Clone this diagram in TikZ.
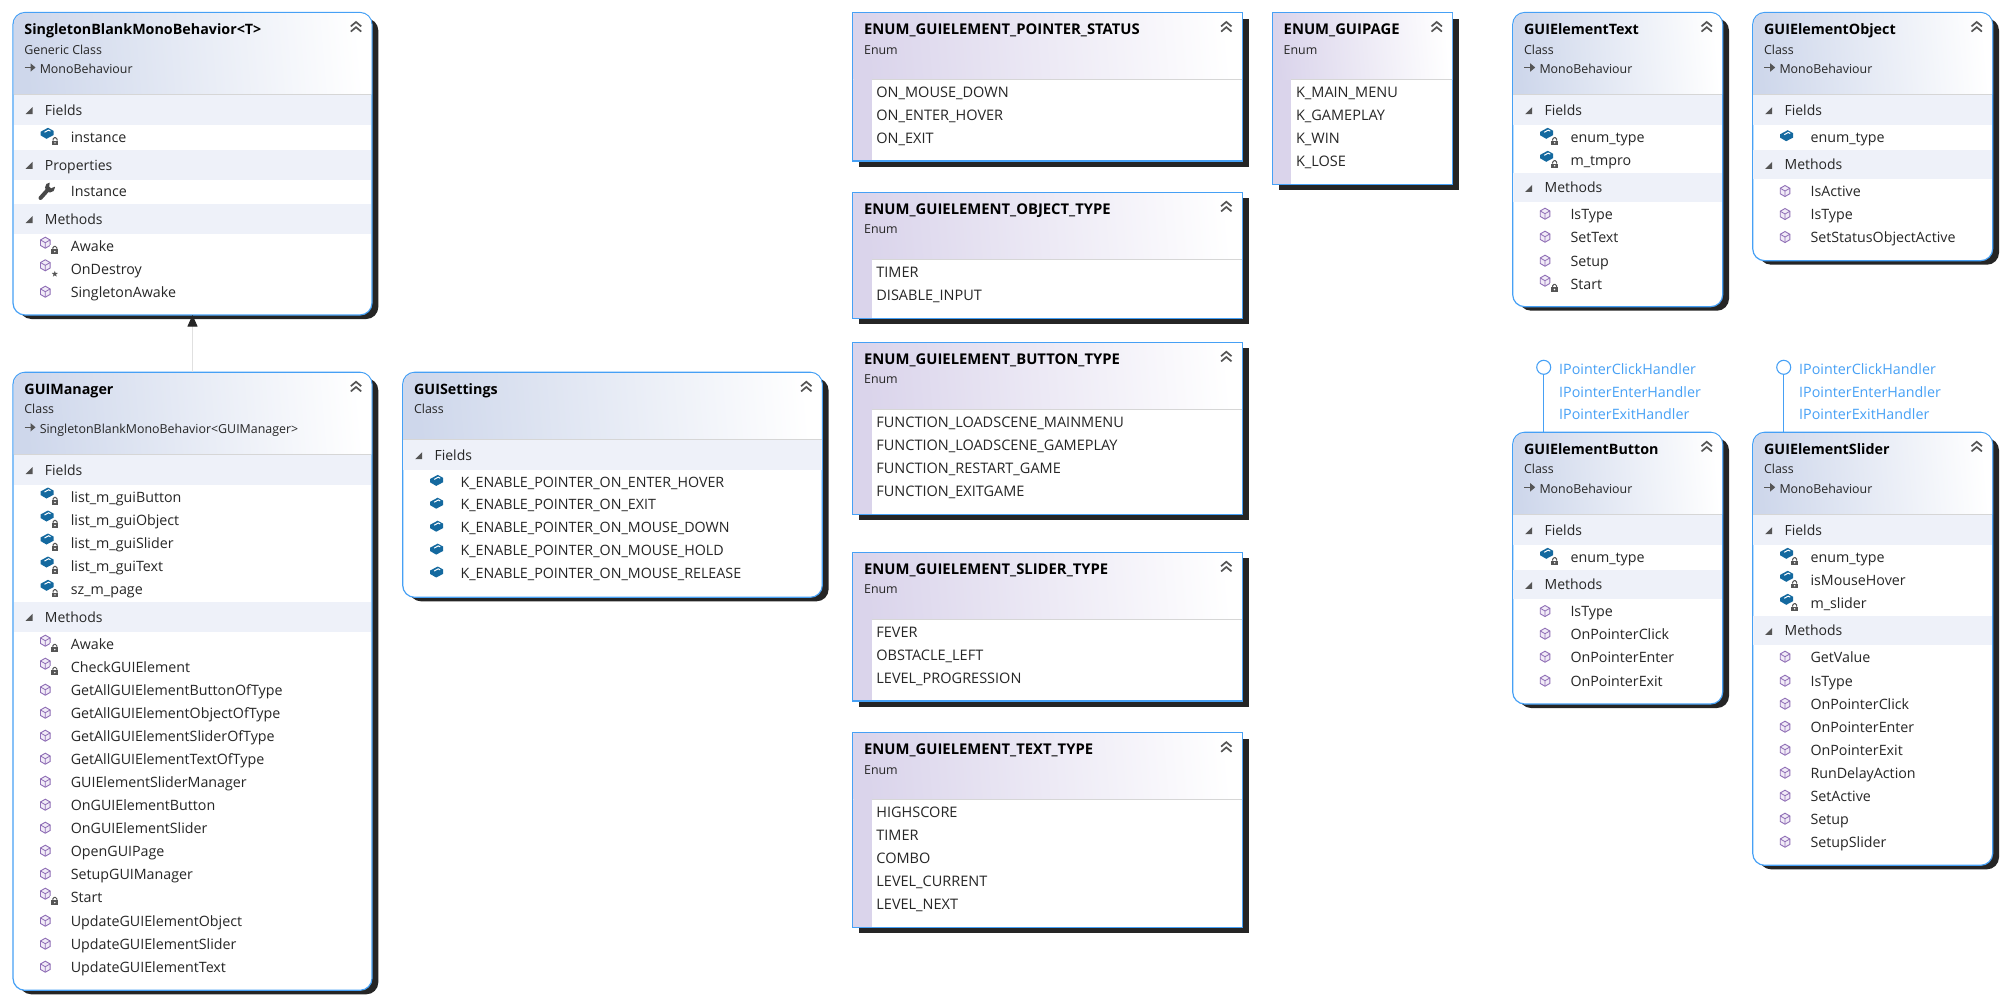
\documentclass[tikz,border=0pt]{standalone}
\usepackage{fontspec}
\setmainfont{Open Sans}
\usetikzlibrary{arrows.meta,calc}

\definecolor{edgeblue}{HTML}{46A0F5}
\definecolor{shadowgray}{HTML}{252525}
\definecolor{classhead}{HTML}{CED7EB}
\definecolor{enumhead}{HTML}{DAD4EB}
\definecolor{bandfill}{HTML}{EEF1F9}
\definecolor{sepgray}{HTML}{D6D6D6}
\definecolor{icongray}{HTML}{555555}
\definecolor{cubeline}{HTML}{8E6DB5}
\definecolor{cubefill}{HTML}{F1EBF7}
\definecolor{blockblue}{HTML}{14699F}

\tikzset{
  boxnode/.style={draw=edgeblue, line width=1.2pt, fill=white, inner sep=0pt, outer sep=0pt},
  titletext/.style={anchor=base west, inner sep=0pt, font=\fontsize{14.3}{16}\selectfont\bfseries, text=black},
  enumtitle/.style={titletext, font=\fontsize{14.8}{16}\selectfont\bfseries},
  kindtext/.style={anchor=base west, inner sep=0pt, font=\fontsize{12.4}{14}\selectfont, text=black!85},
  bandtext/.style={anchor=base west, inner sep=0pt, font=\fontsize{14}{16}\selectfont, text=black!85},
  rowtext/.style={anchor=base west, inner sep=0pt, font=\fontsize{14.25}{16}\selectfont, text=black!85},
  enumtext/.style={rowtext, font=\fontsize{14.5}{16}\selectfont},
  ifacetext/.style={anchor=base west, inner sep=0pt, font=\fontsize{14.3}{16}\selectfont, text=edgeblue},
  lolly/.style={circle, draw=edgeblue, line width=1.1pt, fill=white, minimum size=14pt, inner sep=0pt, outer sep=0pt},
  ifaceline/.style={draw=edgeblue, line width=1.1pt},
  inherit/.style={draw=black!12, line width=0.8pt, -{Triangle[width=10pt,length=11.5pt,color=shadowgray]}},
  lock/.pic={
    \fill[white] (-4.5,-5) rectangle (4.5,4.5);
    \draw[icongray, line width=1pt, rounded corners=1.4pt] (-2,-1)--(-2,-3.8)--(2,-3.8)--(2,-1);
    \fill[icongray] (-3.4,-1) rectangle (3.4,3.6);
    \fill[white] (0,1.3) circle (0.8);
  },
  cube/.pic={
    \draw[cubeline, fill=cubefill, line width=0.9pt] (0,-5.5)--(4.8,-2.75)--(4.8,2.75)--(0,5.5)--(-4.8,2.75)--(-4.8,-2.75)--cycle;
    \draw[cubeline, line width=0.8pt] (-4.8,-2.75)--(0,0)--(4.8,-2.75) (0,0)--(0,5.5);
  },
  block/.pic={
    \fill[blockblue] (-6.5,-1.5)--(1,-5.5)--(6.5,-2.5)--(6.5,1.8)--(-0.5,5.5)--(-6.5,2)--cycle;
    \draw[white, line width=1pt] (-2.5,-1)--(1.5,-3.2)--(3.5,-2.2);
  },
  mthd/.pic={\pic at (-0.7,0) {cube};},
  mthdlock/.pic={\pic at (-0.7,-3) {cube}; \pic at (8.8,4.5) {lock};},
  mthdstar/.pic={
    \pic at (-0.7,-3.4) {cube};
    \fill[icongray] (8.8,2.1)--(9.55,4.25)--(11.85,4.3)--(10,5.7)--(10.7,7.9)--(8.8,6.6)--(6.9,7.9)--(7.6,5.7)--(5.75,4.3)--(8.05,4.25)--cycle;
  },
  fld/.pic={\pic at (1,-1.3) {block};},
  fldlock/.pic={\pic at (1,-3.7) {block}; \pic at (9,4.5) {lock};},
  wrench/.pic={
    \draw[icongray!85!black, line width=4pt, line cap=round] (-5.5,7)--(3,-2.5);
    \fill[icongray!85!black] (4,-3.5) circle (5);
    \fill[white] (3.8,-9.5)--(10,-9.5)--(10,-5)--(5.2,-2.8)--(3.3,-4.4)--cycle;
  },
  chevrons/.pic={
    \draw[icongray, line width=1.7pt] (-5.2,-0.6)--(0,-5)--(5.2,-0.6) (-5.2,4.6)--(0,0.2)--(5.2,4.6);
  },
  bandtri/.pic={
    \fill[icongray] (-3.5,3.5)--(3.5,-3.5)--(3.5,3.5)--cycle;
  },
  parentarrow/.pic={
    \draw[icongray, line width=1.6pt] (-5.5,0)--(1,0);
    \fill[icongray] (0.5,-4.2)--(5.5,0)--(0.5,4.2)--cycle;
  },
}

% class box: name, x1, y1, x2, y2, header bottom, title, kind
\newcommand{\classbox}[8]{
  \fill[shadowgray, rounded corners=12pt] (#2+6.3,#3+6) rectangle (#4+6.3,#5+4);
  \node[boxnode, rounded corners=12pt, minimum width={#4-#2}, minimum height={#5-#3}] (#1) at ({(#2+#4)/2},{(#3+#5)/2}) {};
  \shade[left color=classhead, right color=white, shading angle=95] (#2+0.7,#6) {[rounded corners=11pt] -- (#2+0.7,#3+0.7) -- (#4-0.7,#3+0.7)} -- (#4-0.7,#6) -- cycle;
  \draw[sepgray, line width=0.8pt] (#2+0.7,#6) -- (#4-0.7,#6);
  \node[titletext] (#1-title) at (#2+11.2,#3+21.8) {#7};
  \node[kindtext] (#1-kind) at (#2+11.2,#3+41.5) {#8};
  \pic at (#4-16,#3+14.5) {chevrons};
}
% enum box: name, x1, y1, x2, y2, title
\newcommand{\enumbox}[6]{
  \fill[shadowgray] (#2+6.3,#3+6) rectangle (#4+6.3,#5+5.5);
  \node[boxnode, minimum width={#4-#2}, minimum height={#5-#3}] (#1) at ({(#2+#4)/2},{(#3+#5)/2}) {};
  \shade[left color=enumhead, right color=white, shading angle=95] (#2+0.7,#3+0.7) rectangle (#4-0.7,#3+67);
  \fill[enumhead] (#2+0.7,#3+67) rectangle (#2+19,#5-0.7);
  \draw[sepgray, line width=1pt] (#2+19,#3+67) -- (#4-0.7,#3+67);
  \node[enumtitle] (#1-title) at (#2+11.2,#3+21.8) {#6};
  \node[kindtext] (#1-kind) at (#2+11.2,#3+41.5) {Enum};
  \pic at (#4-16,#3+14.5) {chevrons};
}
% base class line: name, x1, y1, text
\newcommand{\parentline}[4]{
  \pic at (#2+17,#3+55) {parentarrow};
  \node[kindtext] (#1-parent) at (#2+26.6,#3+61) {#4};
}
% section band: name, x1, x2, y1, y2, label
\newcommand{\sectionband}[6]{
  \fill[bandfill] (#2+0.7,#4) rectangle (#3-0.7,#5);
  \pic at (#2+16,{(#4+#5)/2+0.7}) {bandtri};
  \node[bandtext] (#1) at (#2+31.7,{(#4+#5)/2+5.3}) {#6};
}
% member rows: prefix, x1, list of y/label/icon
\newcommand{\memberrows}[3]{
  \foreach \ypos/\lbl/\kind [count=\i] in {#3} {
    \pic at (#2+33,\ypos) {\kind};
    \node[rowtext] (#1-\i) at (#2+57.6,\ypos+5.4) {\lbl};
  }
}
% enum rows: prefix, x1, list of y/label
\newcommand{\enumrows}[3]{
  \foreach \ypos/\lbl [count=\i] in {#3} {
    \node[enumtext] (#1-\i) at (#2+23.5,\ypos+5.7) {\lbl};
  }
}
% interface lollipop: prefix, circle x, box name
\newcommand{\lollipop}[3]{
  \node[lolly] (#1-pin) at (#2,367.3) {};
  \draw[ifaceline] (#1-pin) -- (#1-pin |- #3.north);
  \node[ifacetext] (#1-if1) at (#2+15.3,374.5) {IPointerClickHandler};
  \node[ifacetext] (#1-if2) at (#2+15.3,397) {IPointerEnterHandler};
  \node[ifacetext] (#1-if3) at (#2+15.3,419) {IPointerExitHandler};
}

\begin{document}
\begin{tikzpicture}[x=1pt, y=-1pt]
  \useasboundingbox (0,0) rectangle (2004,1001);

  % left column
  \classbox{single}{13}{12.5}{372}{315}{94.3}{SingletonBlankMonoBehavior<T>}{Generic Class}
  \parentline{single}{13}{12.5}{MonoBehaviour}
  \sectionband{single-fields}{13}{372}{94.7}{125}{Fields}
  \memberrows{single-fld}{13}{137/instance/fldlock}
  \sectionband{single-props}{13}{372}{150}{179.5}{Properties}
  \memberrows{single-prop}{13}{191/Instance/wrench}
  \sectionband{single-methods}{13}{372}{204}{234}{Methods}
  \memberrows{single-mth}{13}{245.7/Awake/mthdlock, 268.7/OnDestroy/mthdstar, 291.7/SingletonAwake/mthd}

  \classbox{gmgr}{13}{372.3}{372}{990.3}{454.3}{GUIManager}{Class}
  \parentline{gmgr}{13}{372.3}{SingletonBlankMonoBehavior<GUIManager>}
  \sectionband{gmgr-fields}{13}{372}{454.7}{485}{Fields}
  \memberrows{gmgr-fld}{13}{496.7/list\_m\_guiButton/fldlock, 519.7/list\_m\_guiObject/fldlock, 542.7/list\_m\_guiSlider/fldlock, 565.7/list\_m\_guiText/fldlock, 589/sz\_m\_page/fldlock}
  \sectionband{gmgr-methods}{13}{372}{601.7}{631.7}{Methods}
  \memberrows{gmgr-mth}{13}{643.7/Awake/mthdlock, 666.7/CheckGUIElement/mthdlock, 689.7/GetAllGUIElementButtonOfType/mthd, 712.7/GetAllGUIElementObjectOfType/mthd, 735.7/GetAllGUIElementSliderOfType/mthd, 758.7/GetAllGUIElementTextOfType/mthd, 781.7/GUIElementSliderManager/mthd, 804.7/OnGUIElementButton/mthd, 827.7/OnGUIElementSlider/mthd, 850.7/OpenGUIPage/mthd, 873.7/SetupGUIManager/mthd, 896.7/Start/mthdlock, 920.7/UpdateGUIElementObject/mthd, 943.7/UpdateGUIElementSlider/mthd, 966.7/UpdateGUIElementText/mthd}

  \draw[inherit] (gmgr) -- (single);

  \classbox{settings}{402.7}{372.3}{822.3}{597.3}{439.3}{GUISettings}{Class}
  \sectionband{settings-fields}{402.7}{822.3}{439.7}{470}{Fields}
  \memberrows{settings-fld}{402.7}{481.7/K\_ENABLE\_POINTER\_ON\_ENTER\_HOVER/fld, 504.5/K\_ENABLE\_POINTER\_ON\_EXIT/fld, 527.5/K\_ENABLE\_POINTER\_ON\_MOUSE\_DOWN/fld, 550.4/K\_ENABLE\_POINTER\_ON\_MOUSE\_HOLD/fld, 573.3/K\_ENABLE\_POINTER\_ON\_MOUSE\_RELEASE/fld}

  % enums
  \enumbox{status}{852.7}{12.5}{1242.3}{161}{ENUM\_GUIELEMENT\_POINTER\_STATUS}
  \enumrows{status-row}{852.7}{91.7/ON\_MOUSE\_DOWN, 114.7/ON\_ENTER\_HOVER, 137.7/ON\_EXIT}
  \enumbox{objtype}{852.7}{192.3}{1242.3}{318.3}{ENUM\_GUIELEMENT\_OBJECT\_TYPE}
  \enumrows{objtype-row}{852.7}{271.7/TIMER, 294.7/DISABLE\_INPUT}
  \enumbox{btntype}{852.7}{342.3}{1242.3}{514.3}{ENUM\_GUIELEMENT\_BUTTON\_TYPE}
  \enumrows{btntype-row}{852.7}{421.7/FUNCTION\_LOADSCENE\_MAINMENU, 444.7/FUNCTION\_LOADSCENE\_GAMEPLAY, 467.7/FUNCTION\_RESTART\_GAME, 490.7/FUNCTION\_EXITGAME}
  \enumbox{slidetype}{852.7}{552.3}{1242.3}{701}{ENUM\_GUIELEMENT\_SLIDER\_TYPE}
  \enumrows{slidetype-row}{852.7}{631.7/FEVER, 654.7/OBSTACLE\_LEFT, 677.7/LEVEL\_PROGRESSION}
  \enumbox{texttype}{852.7}{732.7}{1242.3}{927.7}{ENUM\_GUIELEMENT\_TEXT\_TYPE}
  \enumrows{texttype-row}{852.7}{811.7/HIGHSCORE, 834.7/TIMER, 857.7/COMBO, 880.7/LEVEL\_CURRENT, 903.7/LEVEL\_NEXT}
  \enumbox{page}{1272.3}{12.5}{1452.7}{184.3}{ENUM\_GUIPAGE}
  \enumrows{page-row}{1272.3}{91.7/K\_MAIN\_MENU, 114.7/K\_GAMEPLAY, 137.7/K\_WIN, 160.7/K\_LOSE}

  % element classes
  \classbox{etext}{1512.7}{12.5}{1722.7}{306.7}{94.3}{GUIElementText}{Class}
  \parentline{etext}{1512.7}{12.5}{MonoBehaviour}
  \sectionband{etext-fields}{1512.7}{1722.7}{94.7}{125}{Fields}
  \memberrows{etext-fld}{1512.7}{137/enum\_type/fldlock, 160/m\_tmpro/fldlock}
  \sectionband{etext-methods}{1512.7}{1722.7}{173}{202.3}{Methods}
  \memberrows{etext-mth}{1512.7}{213.7/IsType/mthd, 236.7/SetText/mthd, 260.7/Setup/mthd, 283.7/Start/mthdlock}

  \classbox{eobj}{1752.7}{12.5}{1992.7}{260.7}{94.3}{GUIElementObject}{Class}
  \parentline{eobj}{1752.7}{12.5}{MonoBehaviour}
  \sectionband{eobj-fields}{1752.7}{1992.7}{94.7}{125}{Fields}
  \memberrows{eobj-fld}{1752.7}{137/enum\_type/fld}
  \sectionband{eobj-methods}{1752.7}{1992.7}{150}{179.3}{Methods}
  \memberrows{eobj-mth}{1752.7}{191/IsActive/mthd, 214/IsType/mthd, 237/SetStatusObjectActive/mthd}

  \classbox{ebtn}{1512.7}{432.3}{1722.7}{704}{514.3}{GUIElementButton}{Class}
  \parentline{ebtn}{1512.7}{432.3}{MonoBehaviour}
  \sectionband{ebtn-fields}{1512.7}{1722.7}{514.7}{545}{Fields}
  \memberrows{ebtn-fld}{1512.7}{557/enum\_type/fldlock}
  \sectionband{ebtn-methods}{1512.7}{1722.7}{570}{599.3}{Methods}
  \memberrows{ebtn-mth}{1512.7}{611/IsType/mthd, 633.7/OnPointerClick/mthd, 656.7/OnPointerEnter/mthd, 680.7/OnPointerExit/mthd}
  \lollipop{ebtn}{1543.7}{ebtn}

  \classbox{eslide}{1752.7}{432.3}{1992.7}{865.3}{514.3}{GUIElementSlider}{Class}
  \parentline{eslide}{1752.7}{432.3}{MonoBehaviour}
  \sectionband{eslide-fields}{1752.7}{1992.7}{514.7}{545}{Fields}
  \memberrows{eslide-fld}{1752.7}{557/enum\_type/fldlock, 580/isMouseHover/fldlock, 603/m\_slider/fldlock}
  \sectionband{eslide-methods}{1752.7}{1992.7}{616}{645.3}{Methods}
  \memberrows{eslide-mth}{1752.7}{656.7/GetValue/mthd, 680.7/IsType/mthd, 703.7/OnPointerClick/mthd, 726.7/OnPointerEnter/mthd, 749.7/OnPointerExit/mthd, 772.7/RunDelayAction/mthd, 795.7/SetActive/mthd, 818.7/Setup/mthd, 841.7/SetupSlider/mthd}
  \lollipop{eslide}{1783.7}{eslide}
\end{tikzpicture}
\end{document}
